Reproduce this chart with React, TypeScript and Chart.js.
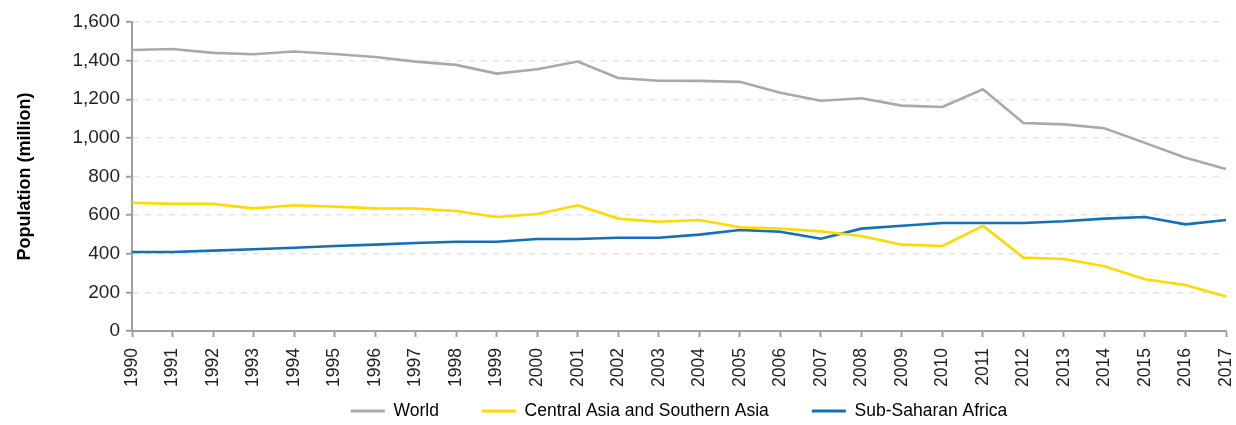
import React, { useEffect, useRef } from "react";
import { Chart, registerables } from "chart.js";

Chart.register(...registerables);

const years = [
  "1990", "1991", "1992", "1993", "1994", "1995", "1996", "1997", "1998", "1999",
  "2000", "2001", "2002", "2003", "2004", "2005", "2006", "2007", "2008", "2009",
  "2010", "2011", "2012", "2013", "2014", "2015", "2016", "2017",
];

const world = [
  1455, 1460, 1440, 1433, 1447, 1434, 1419, 1395, 1378, 1333,
  1355, 1395, 1310, 1296, 1295, 1290, 1234, 1192, 1205, 1167,
  1160, 1252, 1077, 1070, 1050, 974, 897, 839,
];

const centralSouthernAsia = [
  664, 658, 658, 635, 651, 644, 635, 634, 621, 590,
  606, 651, 582, 566, 575, 537, 530, 516, 492, 447,
  440, 545, 380, 373, 335, 268, 238, 178,
];

const subSaharanAfrica = [
  409, 409, 416, 423, 431, 440, 447, 456, 462, 462,
  476, 476, 483, 483, 499, 523, 514, 478, 530, 545,
  559, 559, 559, 568, 582, 590, 552, 575,
];

const seriesNames = ["World", "Central Asia and Southern Asia", "Sub-Saharan Africa"];
const seriesColors = ["#a7a9ac", "#ffd900", "#1170b8"];

const FONT = "'Liberation Sans', Arial, sans-serif";
const TEXT_COLOR = "#231f20";
const AXIS_COLOR = "#a0a0a0";

export default function App() {
  const canvasRef = useRef<HTMLCanvasElement | null>(null);

  useEffect(() => {
    const canvas = canvasRef.current;
    if (!canvas) return;

    const LEGEND_HEIGHT = 28;

    // Legend keeps a wide gap between items (labels.padding) while staying
    // compact vertically, with its items centred in its box.
    const legendFitPlugin = {
      id: "legendFit",
      beforeInit(chart: any) {
        const legend = chart.legend;
        if (!legend) return;
        const origFit = legend.fit;
        legend.fit = function () {
          origFit.call(this);
          if (this.isHorizontal()) this.height = LEGEND_HEIGHT;
        };
        const origDraw = legend._draw;
        legend._draw = function () {
          const labelOpts = this.options.labels;
          const itemHeight = Math.max(labelOpts.font.size || 12, labelOpts.boxHeight || 0);
          const shift = labelOpts.padding - (this.height - itemHeight) / 2;
          const t = this.top;
          this.top = t - shift;
          origDraw.call(this);
          this.top = t;
        };
      },
    };

    const values = [world, centralSouthernAsia, subSaharanAfrica];

    const chart = new Chart(canvas, {
      type: "line",
      data: {
        labels: years,
        datasets: values.map((v, i) => ({
          label: seriesNames[i],
          data: v,
          borderColor: seriesColors[i],
          backgroundColor: seriesColors[i],
          borderWidth: 2.6,
          pointRadius: 0,
          tension: 0,
          fill: false,
        })),
      },
      plugins: [legendFitPlugin],
      options: {
        responsive: false,
        animation: false,
        maintainAspectRatio: false,
        layout: { padding: { top: 22, left: 0, right: 10, bottom: 0 } },
        plugins: {
          tooltip: { enabled: false },
          legend: {
            position: "bottom",
            fullSize: false,
            labels: {
              color: TEXT_COLOR,
              font: { family: FONT, size: 17.5 },
              boxWidth: 34,
              boxHeight: 3,
              padding: 43,
              generateLabels(chart: any) {
                return chart.data.datasets.map((ds: any, i: number) => ({
                  text: ds.label,
                  fillStyle: ds.borderColor,
                  strokeStyle: ds.borderColor,
                  lineWidth: 0,
                  hidden: false,
                  datasetIndex: i,
                }));
              },
            },
          },
        },
        scales: {
          x: {
            type: "category",
            offset: false,
            afterFit(scale: any) {
              scale.height = 66;
              scale.paddingLeft = 0;
              scale.paddingRight = 0;
            },
            grid: {
              display: true,
              drawOnChartArea: false,
              drawTicks: true,
              tickLength: 6,
              tickColor: AXIS_COLOR,
              tickWidth: 2,
            },
            border: { display: true, color: AXIS_COLOR, width: 2 },
            ticks: {
              autoSkip: false,
              maxRotation: 90,
              minRotation: 90,
              padding: 11,
              color: TEXT_COLOR,
              font: { family: FONT, size: 17.5 },
            },
          },
          y: {
            min: 0,
            max: 1600,
            afterFit(scale: any) {
              scale.width = 132;
            },
            grid: {
              display: true,
              drawOnChartArea: true,
              drawTicks: true,
              tickLength: 6,
              color: "#e6e6e6",
              lineWidth: 1.5,
              tickColor: AXIS_COLOR,
              tickWidth: 2,
              tickBorderDash: [],
            },
            border: { display: true, color: AXIS_COLOR, width: 2, dash: [6, 6] },
            ticks: {
              stepSize: 200,
              padding: 6,
              color: TEXT_COLOR,
              font: { family: FONT, size: 19 },
              callback: (v: any) => Number(v).toLocaleString("en-US"),
            },
            title: {
              display: true,
              text: "Population (million)",
              color: "#000000",
              font: { family: FONT, size: 18, weight: "bold" },
              padding: { top: 14, bottom: 0 },
            },
          },
        },
      },
    });

    return () => {
      chart.destroy();
    };
  }, []);

  return (
    <div style={{ position: "absolute", left: 0, top: 0, width: 1236, height: 425, background: "#ffffff" }}>
      <canvas ref={canvasRef} width={1236} height={425} style={{ display: "block" }} />
    </div>
  );
}
